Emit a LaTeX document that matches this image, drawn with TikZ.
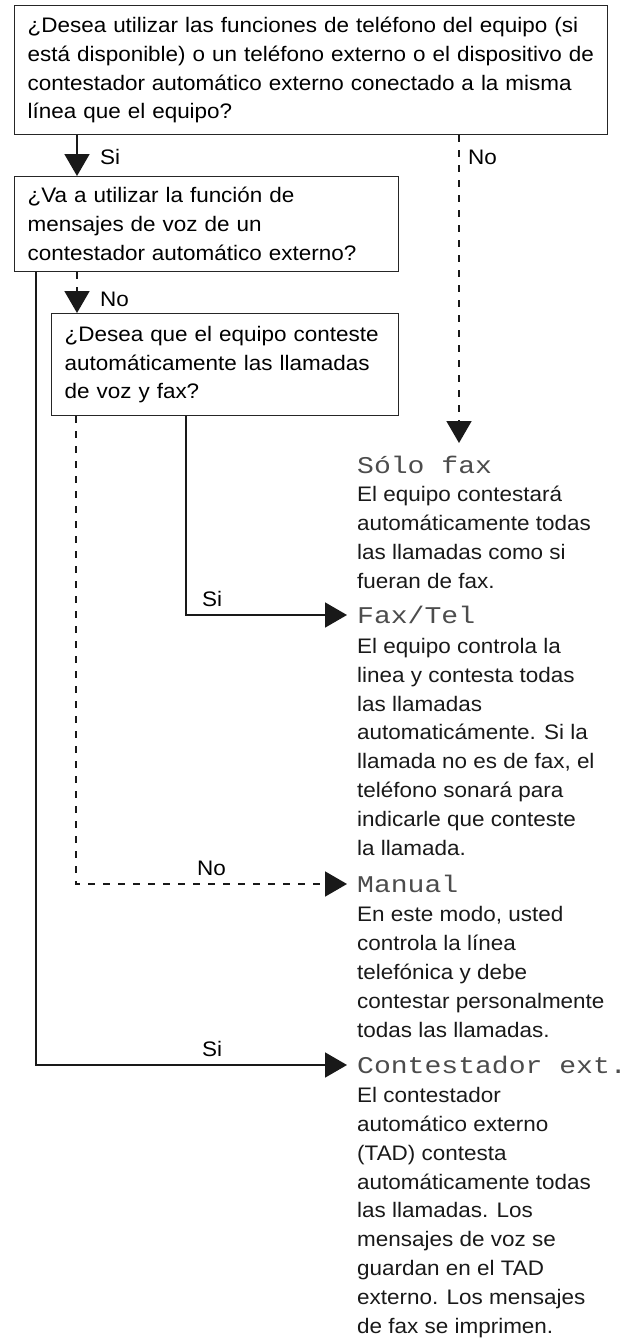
\documentclass[tikz,border=0pt]{standalone}
\usepackage{fontspec}
\setmainfont[FakeStretch=1.07]{Liberation Sans}
\newfontfamily\lcdfont[FakeStretch=1.17]{Liberation Mono}
\usetikzlibrary{arrows.meta,positioning}
\newcommand{\qfont}{\fontsize{21}{28.8}\selectfont}
\begin{document}
\begin{tikzpicture}[x=1pt, y=-1pt,
        question/.style={draw=black!85, line width=1.2pt, anchor=north west, align=left,
            inner xsep=13pt, inner ysep=0pt, font=\qfont},
        answer/.style={anchor=base west, align=left, inner sep=0pt, text=black!90, font=\qfont},
        modename/.style={anchor=base west, inner sep=0pt, text=black!70,
            font=\lcdfont\fontsize{24}{28.8}\selectfont},
        choice/.style={anchor=base west, inner sep=0pt, font=\qfont},
        yes/.style={draw=black!90, line width=1.8pt, -{Triangle[length=22pt,width=25pt]}},
        no/.style={yes, dash pattern=on 7pt off 8pt}]
    \useasboundingbox (0,0) rectangle (630,1339);

    % questions
    \node[question, text width=567pt, minimum height=129pt] (q1) at (14,5)
        {¿Desea utilizar las funciones de teléfono del equipo (si\\
         está disponible) o un teléfono externo o el dispositivo de\\
         contestador automático externo conectado a la misma\\
         línea que el equipo?};
    \node[question, text width=358pt, minimum height=95pt] (q2) at (14,176)
        {¿Va a utilizar la función de\\
         mensajes de voz de un\\
         contestador automático externo?};
    \node[question, text width=321pt, minimum height=102pt] (q3) at (51,313)
        {¿Desea que el equipo conteste\\
         automáticamente las llamadas\\
         de voz y fax?};

    % receive modes (base = last line of the text)
    \node[modename] (fax) at (357,473) {Sólo fax};
    \node[answer] (faxtxt) at (357,588)
        {El equipo contestará\\
         automáticamente todas\\
         las llamadas como si\\
         fueran de fax.};
    \node[modename] (faxtel) at (357,623) {Fax/Tel};
    \node[answer] (faxteltxt) at (357,855)
        {El equipo controla la\\
         linea y contesta todas\\
         las llamadas\\
         automaticámente. Si la\\
         llamada no es de fax, el\\
         teléfono sonará para\\
         indicarle que conteste\\
         la llamada.};
    \node[modename] (manual) at (357,892) {Manual};
    \node[answer] (manualtxt) at (357,1037)
        {En este modo, usted\\
         controla la línea\\
         telefónica y debe\\
         contestar personalmente\\
         todas las llamadas.};
    \node[modename] (tad) at (357,1073) {Contestador ext.};
    \node[answer] (tadtxt) at (357,1333)
        {El contestador\\
         automático externo\\
         (TAD) contesta\\
         automáticamente todas\\
         las llamadas. Los\\
         mensajes de voz se\\
         guardan en el TAD\\
         externo. Los mensajes\\
         de fax se imprimen.};

    % connectors
    \draw[yes] ([xshift=63pt]q1.south west) -- ([xshift=63pt]q2.north west);
    \draw[no] ([xshift=445pt]q1.south west) -- ([xshift=102pt,yshift=30pt]fax.base west);
    \draw[no] ([xshift=63pt]q2.south west) -- ([xshift=26pt]q3.north west);
    \draw[yes] ([xshift=135pt]q3.south west) |- ([xshift=-10pt,yshift=8pt]faxtel.base west);
    \draw[no] ([xshift=25pt]q3.south west) |- ([xshift=-10pt,yshift=8pt]manual.base west);
    \draw[yes] ([xshift=22pt]q2.south west) |- ([xshift=-10pt,yshift=8pt]tad.base west);

    % labels
    \node[choice] (si1) at (100,164) {Si};
    \node[choice] (no1) at (468,164) {No};
    \node[choice] (no2) at (100,306) {No};
    \node[choice] (si2) at (202,606) {Si};
    \node[choice] (no3) at (197,875) {No};
    \node[choice] (si3) at (202,1056) {Si};
\end{tikzpicture}
\end{document}
